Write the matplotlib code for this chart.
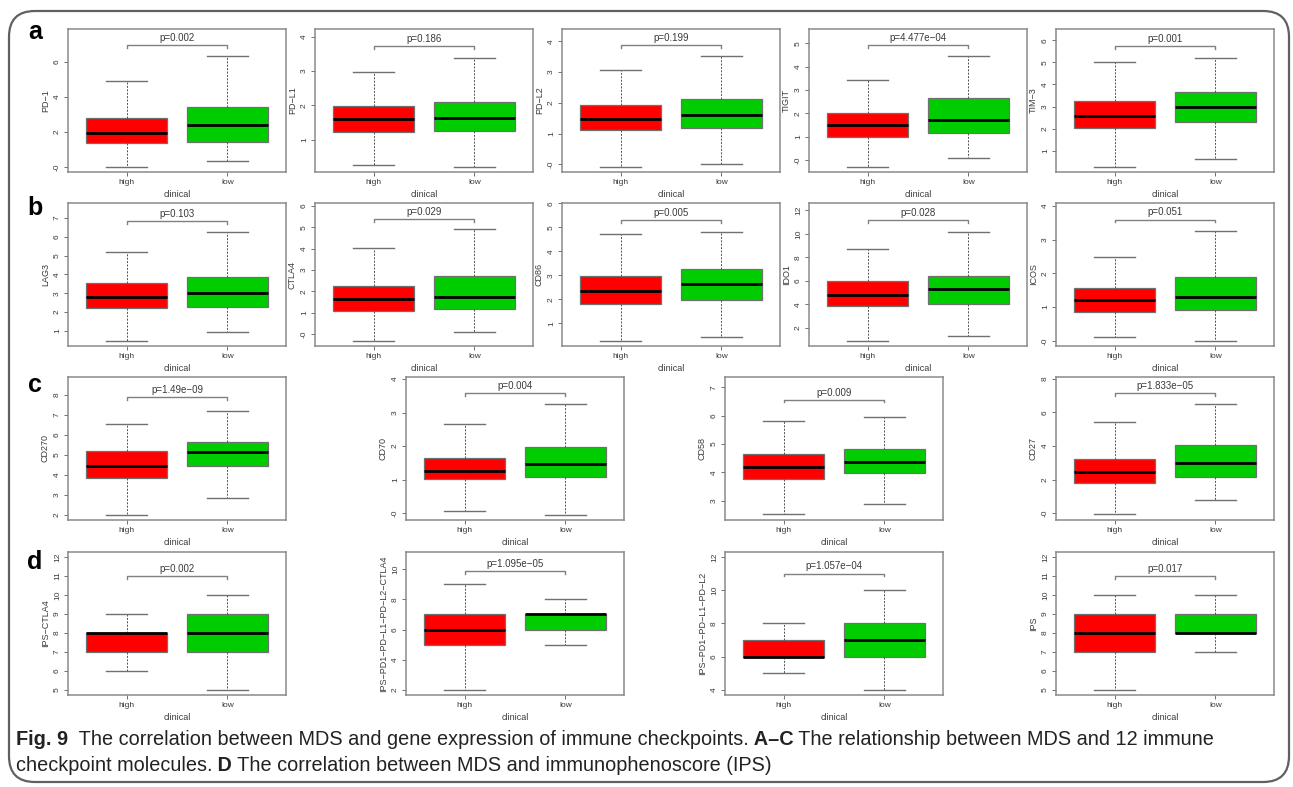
import numpy as np
import matplotlib.pyplot as plt
from matplotlib.patches import FancyBboxPatch

W, H = 1293, 787

# gene / score names and p values, row by row (a: 5, b: 5, c: 4, d: 4)
genes = ["PD−1", "PD−L1", "PD−L2", "TIGIT", "TIM−3",
         "LAG3", "CTLA4", "CD86", "IDO1", "ICOS",
         "CD270", "CD70", "CD58", "CD27",
         "IPS−CTLA4", "IPS−PD1−PD−L1−PD−L2−CTLA4", "IPS−PD1−PD−L1−PD−L2", "IPS"]
pvals = ["0.002", "0.186", "0.199", "4.477e−04", "0.001",
         "0.103", "0.029", "0.005", "0.028", "0.051",
         "1.49e−09", "0.004", "0.009", "1.833e−05",
         "0.002", "1.095e−05", "1.057e−04", "0.017"]

# box statistics for the "high" group: lower whisker, Q1, median, Q3, upper whisker
high_lo = [0.00, 0.25, -0.09, -0.28, 0.26, 0.45, -0.33, 0.27, 0.93, 0.13, 2.00, 0.06, 2.51, -0.08, 6, 2, 5, 5]
high_q1 = [1.37, 1.21, 1.11, 0.99, 2.04, 2.22, 1.07, 1.79, 3.84, 0.86, 3.84, 1.01, 3.75, 1.78, 7, 5, 6, 7]
high_med = [1.94, 1.60, 1.48, 1.49, 2.58, 2.80, 1.65, 2.33, 4.78, 1.21, 4.44, 1.25, 4.19, 2.47, 8, 6, 6, 8]
high_q3 = [2.80, 1.99, 1.94, 2.02, 3.26, 3.55, 2.26, 2.99, 6.00, 1.56, 5.17, 1.66, 4.63, 3.24, 8, 7, 7, 9]
high_hi = [4.90, 2.98, 3.08, 3.45, 5.00, 5.21, 4.03, 4.70, 8.73, 2.49, 6.53, 2.66, 5.82, 5.40, 9, 9, 8, 10]

# same for the "low" group
low_lo = [0.36, 0.21, 0.01, 0.10, 0.61, 0.91, 0.11, 0.43, 1.32, 0.00, 2.86, -0.04, 2.89, 0.77, 5, 5, 4, 7]
low_q1 = [1.41, 1.25, 1.17, 1.18, 2.30, 2.26, 1.17, 1.99, 4.03, 0.92, 4.42, 1.08, 3.97, 2.15, 7, 6, 6, 8]
low_med = [2.40, 1.64, 1.59, 1.72, 2.99, 3.02, 1.74, 2.62, 5.30, 1.29, 5.12, 1.46, 4.36, 2.98, 8, 7, 7, 8]
low_q3 = [3.43, 2.11, 2.12, 2.66, 3.67, 3.87, 2.71, 3.26, 6.46, 1.89, 5.65, 1.97, 4.81, 4.05, 9, 7, 8, 9]
low_hi = [6.32, 3.39, 3.51, 4.47, 5.22, 6.25, 4.91, 4.81, 10.14, 3.26, 7.17, 3.27, 5.97, 6.52, 10, 8, 10, 10]

# height of the significance bracket
bracket_y = [6.97, 3.73, 3.88, 4.93, 5.74, 6.86, 5.39, 5.29, 11.15, 3.59,
             7.90, 3.57, 6.57, 7.15, 11.0, 9.87, 11.0, 11.0]

# axis limits and tick spacing
y_lo = [-0.29, 0.06, -0.25, -0.50, 0.04, 0.19, -0.56, 0.06, 0.47, -0.15, 1.75, -0.20, 2.31, -0.41, 4.74, 1.65, 3.68, 4.74]
y_hi = [7.89, 4.22, 4.40, 5.61, 6.51, 7.80, 6.14, 6.01, 12.62, 4.08, 8.88, 4.06, 7.37, 8.10, 12.26, 11.15, 12.30, 12.26]
y_step = [2, 1, 1, 1, 1, 1, 1, 1, 2, 1, 1, 1, 1, 2, 1, 2, 2, 1]

groups = ["high", "low"]
colors = ["#ff0000", "#00cd00"]
row_letters = ["a", "b", "c", "d"]

# panel frames in pixels: (left, top) ; all panels 218 x 143
lefts5 = [68, 315, 562, 809, 1056]
lefts4 = [68, 406, 725, 1056]
frames = ([(x, 29) for x in lefts5] + [(x, 203) for x in lefts5] +
          [(x, 377) for x in lefts4] + [(x, 552) for x in lefts4])
pw, ph = 218, 143

plt.rcParams['font.family'] = ['Liberation Sans', 'DejaVu Sans']
fig = plt.figure(figsize=(W / 100, H / 100), dpi=100)

# rounded outer border
fig.patches.append(FancyBboxPatch((9 / W, 1 - 782 / H), (1289 - 9) / W, (782 - 11) / H,
                                  boxstyle="round,pad=0,rounding_size=0.02",
                                  transform=fig.transFigure, fill=False,
                                  edgecolor="#606060", lw=1.6, mutation_aspect=W / H))

txt_col = "#3a3a3a"
for i, name in enumerate(genes):
    l, t = frames[i]
    ax = fig.add_axes([l / W, 1 - (t + ph) / H, pw / W, ph / H])
    stats = [
        dict(whislo=high_lo[i], q1=high_q1[i], med=high_med[i], q3=high_q3[i], whishi=high_hi[i]),
        dict(whislo=low_lo[i], q1=low_q1[i], med=low_med[i], q3=low_q3[i], whishi=low_hi[i]),
    ]
    bp = ax.bxp(stats, positions=[1, 2], widths=0.8, capwidths=0.4, showfliers=False,
                patch_artist=True,
                boxprops=dict(edgecolor="#707070", lw=0.9),
                whiskerprops=dict(color="#505050", lw=0.7, linestyle=(0, (2, 1.5))),
                capprops=dict(color="#707070", lw=1.0),
                medianprops=dict(color="black", lw=2.0))
    for patch, c in zip(bp["boxes"], colors):
        patch.set_facecolor(c)

    ax.set_xlim(0.42, 2.58)
    ax.set_ylim(y_lo[i], y_hi[i])
    st = y_step[i]
    ticks = np.arange(np.ceil(y_lo[i] / st) * st, y_hi[i] + 1e-9, st)
    ax.set_yticks(ticks)
    ax.set_yticklabels([f"{v:g}" for v in ticks], rotation=90, va="center")
    ax.set_xticks([1, 2])
    ax.set_xticklabels(groups)
    ax.tick_params(labelsize=6, colors="#707070", labelcolor=txt_col, length=3, width=0.7, pad=2)
    for sp in ax.spines.values():
        sp.set_color("#8a8a8a")
        sp.set_linewidth(1.1)
    ax.set_ylabel(name, fontsize=6.5, color=txt_col, labelpad=3)
    ax.set_xlabel("clinical", fontsize=6.5, color=txt_col, labelpad=3)

    # significance bracket with p value
    h = bracket_y[i]
    d = (y_hi[i] - y_lo[i]) * 0.02
    ax.plot([1, 1, 2, 2], [h - d, h, h, h - d], color="#808080", lw=1.0)
    ax.annotate(f"p={pvals[i]}", (1.5, h), xytext=(0, 1.5), textcoords="offset points",
                ha="center", va="bottom", fontsize=7, color=txt_col)

# row letters
for letter, y in zip(row_letters, [32, 208, 385, 562]):
    fig.text(35 / W, 1 - y / H, letter, fontsize=18, fontweight="bold",
             ha="center", va="center", color="black")

# caption with bold runs
cap_font = ['Liberation Sans Narrow', 'Liberation Sans', 'DejaVu Sans']
renderer = fig.canvas.get_renderer()


def caption_line(y, runs, x0=16, size=14.3):
    x = x0
    for s, bold in runs:
        t = fig.text(x / W, 1 - y / H, s, fontsize=size, family=cap_font,
                     fontweight="bold" if bold else "normal",
                     ha="left", va="baseline", color="#222222")
        x += t.get_window_extent(renderer).width


caption_line(745, [("Fig. 9", True),
                   ("  The correlation between MDS and gene expression of immune checkpoints.", False),
                   (" A–C", True),
                   (" The relationship between MDS and 12 immune", False)])
caption_line(771, [("checkpoint molecules.", False),
                   (" D", True),
                   (" The correlation between MDS and immunophenoscore (IPS)", False)])

fig.savefig("out.png", dpi=100)
